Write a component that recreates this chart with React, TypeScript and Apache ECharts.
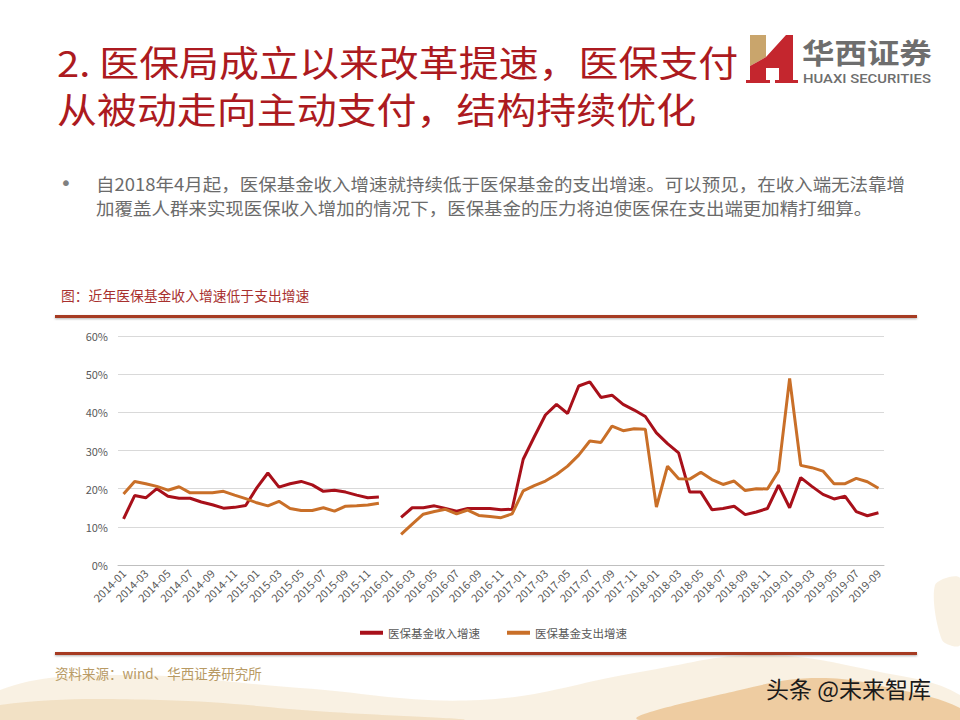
import React, { useEffect, useRef } from "react";
import * as echarts from "echarts";

const months = [
  "2014-01","2014-02","2014-03","2014-04","2014-05","2014-06","2014-07","2014-08","2014-09","2014-10","2014-11","2014-12",
  "2015-01","2015-02","2015-03","2015-04","2015-05","2015-06","2015-07","2015-08","2015-09","2015-10","2015-11","2015-12",
  "2016-01","2016-02","2016-03","2016-04","2016-05","2016-06","2016-07","2016-08","2016-09","2016-10","2016-11","2016-12",
  "2017-01","2017-02","2017-03","2017-04","2017-05","2017-06","2017-07","2017-08","2017-09","2017-10","2017-11","2017-12",
  "2018-01","2018-02","2018-03","2018-04","2018-05","2018-06","2018-07","2018-08","2018-09","2018-10","2018-11","2018-12",
  "2019-01","2019-02","2019-03","2019-04","2019-05","2019-06","2019-07","2019-08","2019-09"
];

// 医保基金收入增速 (%)
const incomeGrowth = [
  12.1, 18.2, 17.6, 20.0, 18.0, 17.5, 17.5, 16.5, 15.8, 14.9, 15.1, 15.6,
  20.2, 24.1, 20.4, 21.3, 21.9, 21.0, 19.3, 19.6, 19.1, 18.3, 17.6, 17.8,
  null, 12.5, 15.0, 15.0, 15.5, 14.8, 14.1, 14.8, 14.8, 14.8, 14.5, 14.6,
  27.7, 33.6, 39.3, 42.1, 39.7, 46.9, 48.0, 43.9, 44.5, 42.1, 40.6, 38.9,
  34.6, 31.8, 29.4, 19.1, 19.1, 14.5, 14.8, 15.4, 13.2, 13.9, 14.8, 20.9,
  15.0, 22.9, 20.6, 18.5, 17.3, 18.0, 14.0, 12.9, 13.7
];

// 医保基金支出增速 (%)
const expenseGrowth = [
  18.6, 21.9, 21.3, 20.6, 19.6, 20.5, 18.9, 18.9, 18.95, 19.3, 18.3, 17.4,
  16.3, 15.5, 16.7, 14.8, 14.3, 14.3, 15.0, 14.1, 15.4, 15.5, 15.7, 16.2,
  null, 8.0, 10.7, 13.3, 14.0, 14.6, 13.4, 14.4, 13.0, 12.7, 12.4, 13.4,
  19.4, 20.8, 22.0, 23.7, 25.9, 28.8, 32.5, 32.1, 36.4, 35.2, 35.7, 35.6,
  15.2, 25.9, 22.6, 22.5, 24.3, 22.4, 21.1, 22.0, 19.5, 20.0, 19.9, 24.6,
  48.9, 26.1, 25.5, 24.6, 21.3, 21.3, 22.7, 21.8, 20.1
];

const seriesNames = ["医保基金收入增速", "医保基金支出增速"];
const titleLines = ["2. 医保局成立以来改革提速，医保支付", "从被动走向主动支付，结构持续优化"];
const bulletLines = [
  "自2018年4月起，医保基金收入增速就持续低于医保基金的支出增速。可以预见，在收入端无法靠增",
  "加覆盖人群来实现医保收入增加的情况下，医保基金的压力将迫使医保在支出端更加精打细算。"
];
const chartTitle = "图：近年医保基金收入增速低于支出增速";
const sourceText = "资料来源：wind、华西证券研究所";
const logoCn = "华西证券";
const logoEn = "HUAXI SECURITIES";
const watermark = "头条 @未来智库";

const FONT = "'Noto Sans CJK SC', 'Noto Sans', sans-serif";
const RED = "#A8101A";
const ORANGE = "#C96F28";
const TITLE_RED = "#AC1A20";

function txt(text: string, x: number, y: number, size: number, fill: string, extra: any = {}) {
  const align = extra.align || "left";
  return {
    type: "text",
    x,
    y,
    z: 10,
    scaleX: extra.scaleX || 1,
    style: {
      text,
      fill,
      fontSize: size,
      lineHeight: size,
      fontFamily: extra.fontFamily || FONT,
      fontWeight: extra.fontWeight || "normal",
      align,
      textAlign: align,
      verticalAlign: "middle",
      textVerticalAlign: "middle",
    },
  };
}

export default function App() {
  const ref = useRef<HTMLDivElement>(null);

  useEffect(() => {
    if (!ref.current) return;
    const chart = echarts.init(ref.current, null, { renderer: "svg" });

    const graphic: any[] = [
      // decorative background waves
      {
        type: "polygon",
        z: -20,
        silent: true,
        shape: {
          points: [[0, 690], [120, 675], [300, 688], [480, 700], [640, 672], [760, 655], [880, 672], [960, 695], [960, 720], [0, 720]],
          smooth: 0.4,
        },
        style: { fill: "rgba(238, 214, 175, 0.35)" },
      },
      {
        type: "polygon",
        z: -19,
        silent: true,
        shape: {
          points: [[0, 705], [160, 700], [330, 712], [460, 720], [0, 720]],
          smooth: 0.4,
        },
        style: { fill: "rgba(230, 195, 140, 0.35)" },
      },
      {
        type: "polygon",
        z: -18,
        silent: true,
        shape: {
          points: [[640, 720], [740, 690], [820, 678], [900, 690], [960, 708], [960, 720]],
          smooth: 0.4,
        },
        style: { fill: "rgba(225, 160, 80, 0.45)" },
      },
      {
        type: "polygon",
        z: -18,
        silent: true,
        shape: {
          points: [[935, 585], [960, 578], [960, 645], [942, 640]],
          smooth: 0.3,
        },
        style: { fill: "rgba(238, 214, 175, 0.35)" },
      },
      // title
      txt(titleLines[0], 57, 61.5, 36, TITLE_RED, { scaleX: 1.11 }),
      txt(titleLines[1], 57, 108.5, 36, TITLE_RED, { scaleX: 1.11 }),
      // logo mark
      {
        type: "polygon",
        z: 10,
        shape: { points: [[750, 35], [766, 35], [766, 57], [750, 66]] },
        style: { fill: "#C9A56C" },
      },
      {
        type: "polygon",
        z: 10,
        shape: { points: [[750, 66], [766, 57], [766, 82], [750, 82]] },
        style: { fill: "#C4262E" },
      },
      {
        type: "polygon",
        z: 10,
        shape: { points: [[766, 57], [786, 35], [793, 35], [793, 82], [779, 82], [779, 68], [766, 68]] },
        style: { fill: "#C4262E" },
      },
      { type: "rect", z: 10, shape: { x: 746, y: 80, width: 24, height: 3 }, style: { fill: "#C4262E" } },
      { type: "rect", z: 10, shape: { x: 775, y: 80, width: 23, height: 3 }, style: { fill: "#C4262E" } },
      txt(logoCn, 802, 51, 29, "#6E6E6E", { fontWeight: "bold", scaleX: 1.12 }),
      txt(logoEn, 803, 78, 13.5, "#6E6E6E", { fontFamily: "Roboto, 'Noto Sans', sans-serif", fontWeight: 500, scaleX: 1.1 }),
      // bullet text
      txt("•", 60, 183, 20, "#808080", { fontFamily: "'DejaVu Sans', sans-serif" }),
      txt(bulletLines[0], 96, 183, 17, "#6B6B6B", { scaleX: 1.088 }),
      txt(bulletLines[1], 96, 207, 17, "#6B6B6B", { scaleX: 1.088 }),
      // chart title
      txt(chartTitle, 61, 295, 13.8, "#A8302E"),
      // separators
      {
        type: "rect",
        z: 10,
        shape: { x: 55, y: 315, width: 862, height: 3 },
        style: { fill: "#A63B24", shadowBlur: 2, shadowColor: "rgba(0,0,0,0.3)", shadowOffsetY: 1 },
      },
      {
        type: "rect",
        z: 10,
        shape: { x: 55, y: 652, width: 862, height: 3 },
        style: { fill: "#A63B24", shadowBlur: 2, shadowColor: "rgba(0,0,0,0.3)", shadowOffsetY: 1 },
      },
      // source & watermark
      txt(sourceText, 55, 673, 13.5, "#B89A64"),
      txt(watermark, 931, 688, 23, "#1A1A1A", { align: "right" }),
    ];

    chart.setOption({
      animation: false,
      backgroundColor: "#ffffff",
      textStyle: { fontFamily: FONT },
      grid: { left: 118, right: 76, top: 336, bottom: 155, containLabel: false },
      legend: {
        left: 355,
        top: 622,
        icon: "rect",
        itemWidth: 23,
        itemHeight: 4,
        itemGap: 27,
        textStyle: { fontSize: 11.5, color: "#595959", fontFamily: FONT },
        data: seriesNames,
      },
      xAxis: {
        type: "category",
        data: months,
        boundaryGap: true,
        axisLine: { lineStyle: { color: "#BFBFBF" } },
        axisTick: { interval: 1, length: 4, lineStyle: { color: "#BFBFBF" } },
        axisLabel: { interval: 1, rotate: 45, fontSize: 11, color: "#595959", margin: 6, fontFamily: FONT },
      },
      yAxis: {
        type: "value",
        min: 0,
        max: 60,
        interval: 10,
        axisLine: { show: false },
        axisTick: { show: false },
        axisLabel: { formatter: "{value}%", fontSize: 11, color: "#595959", margin: 10, fontFamily: FONT },
        splitLine: { lineStyle: { color: "#D9D9D9", width: 1 } },
      },
      series: [
        {
          type: "line",
          name: seriesNames[0],
          data: incomeGrowth,
          symbol: "none",
          connectNulls: false,
          lineStyle: { width: 3, color: RED },
          itemStyle: { color: RED },
        },
        {
          type: "line",
          name: seriesNames[1],
          data: expenseGrowth,
          symbol: "none",
          connectNulls: false,
          lineStyle: { width: 3, color: ORANGE },
          itemStyle: { color: ORANGE },
        },
      ],
      graphic,
    });

    return () => chart.dispose();
  }, []);

  return (
    <div
      ref={ref}
      style={{ position: "fixed", left: 0, top: 0, width: 960, height: 720 }}
    />
  );
}
